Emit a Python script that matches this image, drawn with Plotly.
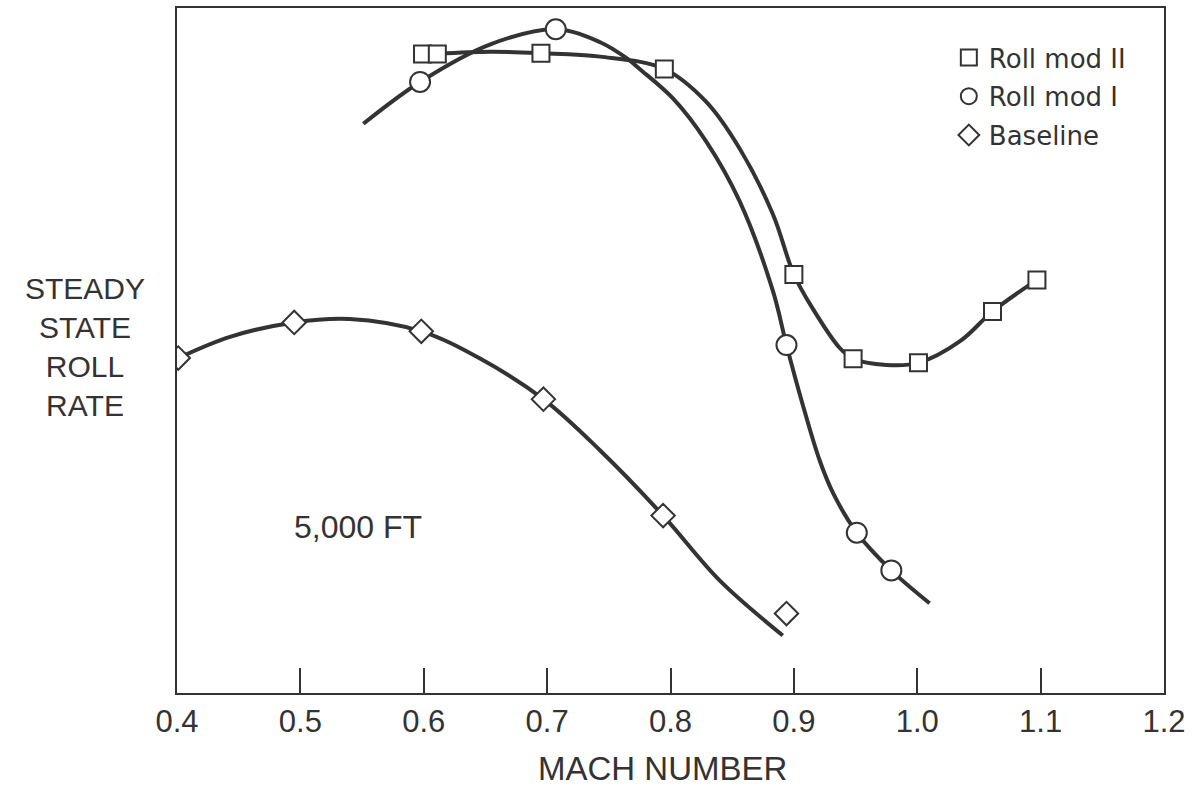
import plotly.graph_objects as go

# ---- data (Mach number, relative roll rate 0-100) ----
mod2_mach = [0.599, 0.611, 0.695, 0.795, 0.900, 0.948, 1.001, 1.061, 1.097]
mod2_rate = [93.3, 93.3, 93.4, 91.1, 61.1, 48.8, 48.2, 55.7, 60.3]
mod2_curve_mach = [0.611, 0.654, 0.695, 0.743, 0.795, 0.829, 0.856, 0.883, 0.900,
                   0.915, 0.937, 0.948, 0.975, 1.001, 1.035, 1.061, 1.097]
mod2_curve_rate = [93.3, 93.6, 93.4, 92.9, 91.1, 86.3, 79.5, 69.9, 61.1,
                   56.2, 50.4, 48.8, 47.9, 48.2, 51.4, 55.7, 60.3]

mod1_mach = [0.597, 0.707, 0.894, 0.951, 0.979]
mod1_rate = [89.2, 96.9, 50.8, 23.4, 17.9]
mod1_curve_mach = [0.551, 0.597, 0.654, 0.707, 0.743, 0.765, 0.775, 0.802, 0.829, 0.856,
                   0.883, 0.894, 0.907, 0.921, 0.932, 0.951, 0.979, 1.010]
mod1_curve_rate = [83.1, 89.2, 94.7, 96.9, 95.0, 92.6, 91.1, 86.8, 80.5, 71.8,
                   58.7, 50.8, 42.2, 33.9, 29.1, 23.4, 17.9, 13.1]

base_mach = [0.401, 0.495, 0.598, 0.697, 0.794, 0.894]
base_rate = [48.9, 54.1, 52.8, 42.9, 25.9, 11.6]
base_curve_mach = [0.401, 0.443, 0.495, 0.540, 0.598, 0.646, 0.697, 0.743, 0.794, 0.840, 0.891]
base_curve_rate = [48.9, 52.0, 54.1, 54.6, 52.8, 48.8, 42.9, 35.4, 25.9, 16.4, 8.4]

x_ticks = [0.4, 0.5, 0.6, 0.7, 0.8, 0.9, 1.0, 1.1, 1.2]
x_tick_labels = ["0.4", "0.5", "0.6", "0.7", "0.8", "0.9", "1.0", "1.1", "1.2"]

INK = "#333333"
FONT = "Liberation Sans, Arial, Helvetica, sans-serif"

fig = go.Figure()

curves = [
    (mod2_curve_mach, mod2_curve_rate),
    (mod1_curve_mach, mod1_curve_rate),
    (base_curve_mach, base_curve_rate),
]
for cx, cy in curves:
    fig.add_trace(go.Scatter(x=cx, y=cy, mode="lines",
                             line=dict(color=INK, width=4, shape="spline", smoothing=1.0),
                             showlegend=False, hoverinfo="skip"))

markers = [
    ("Roll mod II", mod2_mach, mod2_rate, "square", 17, "g1"),
    ("Roll mod I", mod1_mach, mod1_rate, "circle", 20, "g2"),
    ("Baseline", base_mach, base_rate, "diamond", 18, "g3"),
]
for name, mx, my, sym, sz, grp in markers:
    fig.add_trace(go.Scatter(x=mx, y=my, mode="markers", name=name, legendgroup=grp,
                             marker=dict(symbol=sym, size=sz, color="white",
                                         line=dict(color=INK, width=2))))

fig.update_layout(
    width=1192, height=786,
    margin=dict(l=177, r=27, t=6, b=93),
    paper_bgcolor="white", plot_bgcolor="white",
    font=dict(family=FONT, color=INK),
    showlegend=True,
    legend=dict(x=0.782, y=0.962, xanchor="left", yanchor="top",
                font=dict(family="DejaVu Sans, sans-serif", size=26, color=INK),
                bgcolor="rgba(0,0,0,0)", traceorder="grouped", tracegroupgap=2,
                itemsizing="trace"),
    xaxis=dict(range=[0.4, 1.2], tickmode="array", tickvals=x_ticks, ticktext=x_tick_labels,
               ticks="inside", ticklen=25, tickwidth=1.5, tickcolor=INK,
               showline=True, linecolor=INK, linewidth=2, mirror=True,
               showgrid=False, zeroline=False, ticklabelstandoff=0,
               tickfont=dict(size=31, family=FONT, color=INK)),
    yaxis=dict(range=[0, 100], showticklabels=False, ticks="",
               showline=True, linecolor=INK, linewidth=2, mirror=True,
               showgrid=False, zeroline=False),
    annotations=[
        dict(text="MACH NUMBER", xref="paper", yref="paper", x=0.492, y=-0.110,
             xanchor="center", yanchor="middle", showarrow=False,
             font=dict(size=33, family=FONT, color=INK)),
        dict(text="STEADY<br>STATE<br>ROLL<br>RATE", xref="paper", yref="paper",
             x=-0.093, y=0.505, xanchor="center", yanchor="middle", align="center",
             showarrow=False, font=dict(size=30, family=FONT, color=INK)),
        dict(text="5,000 FT", xref="x", yref="y", x=0.547, y=24.2,
             xanchor="center", yanchor="middle", showarrow=False,
             font=dict(size=32, family=FONT, color=INK)),
    ],
)

fig.write_html("out.html", config={"displayModeBar": False},
               post_script="document.body.style.margin='0px';document.body.style.overflow='hidden';")
